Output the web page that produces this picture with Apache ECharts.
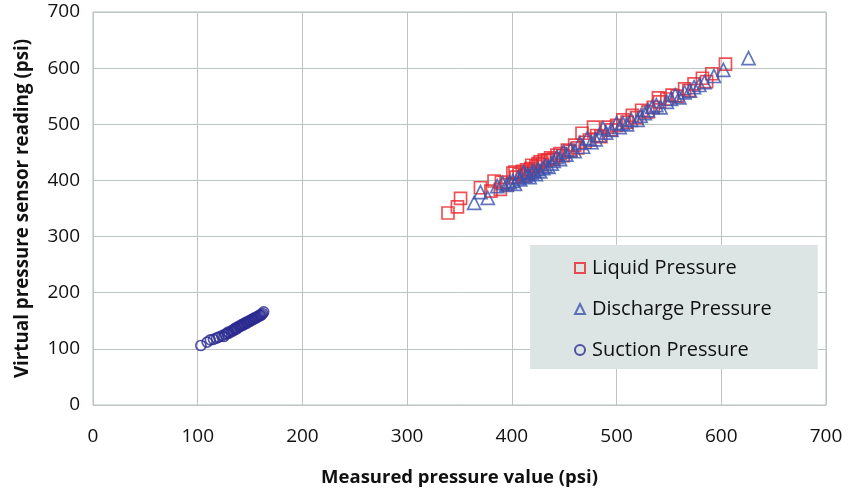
<!DOCTYPE html>
<html>
<head>
<meta charset="utf-8">
<script src="https://cdn.jsdelivr.net/npm/echarts@6/dist/echarts.min.js"></script>
<style>html,body{margin:0;padding:0;background:#fff}#c{width:852px;height:494px}</style>
</head>
<body>
<div id="c"></div>
<script>
var xTicks = [0, 100, 200, 300, 400, 500, 600, 700];
var yTicks = [0, 100, 200, 300, 400, 500, 600, 700];
var seriesNames = ['Liquid Pressure', 'Discharge Pressure', 'Suction Pressure'];

var liquidPressure = [
[339,342],[348,353],[351,368],[370,387],[380,381],[383,399],[389,384],[390,397],[396,393],[401,413],
[403,415],[404,406],[407,411],[410,416],[412,408],[414,419],[416,413],[418,421],[419,427],[421,417],
[423,425],[425,430],[427,433],[429,428],[431,436],[434,436],[437,440],[440,438],[443,445],[446,448],
[449,444],[453,454],[456,452],[460,463],[463,458],[467,484],[470,468],[474,472],[478,495],[481,480],
[485,478],[491,495],[495,490],[500,498],[506,508],[510,504],[515,516],[519,512],[524,525],[530,522],
[535,530],[540,547],[541,540],[548,545],[553,552],[558,550],[565,563],[569,560],[574,572],[582,582],
[586,576],[591,590],[604,607]
];

var dischargePressure = [
[364,360],[370,379],[377,369],[386,390],[391,395],[395,392],[398,397],[401,399],[403,394],[406,405],
[408,402],[411,415],[413,408],[415,411],[417,406],[419,414],[421,417],[423,411],[425,420],[427,416],
[430,422],[432,426],[435,424],[438,430],[440,435],[443,442],[446,438],[449,451],[452,446],[456,455],
[460,452],[465,467],[468,460],[472,475],[476,468],[480,473],[484,480],[487,493],[490,485],[495,490],
[500,502],[503,495],[506,502],[510,500],[514,508],[520,508],[523,515],[527,520],[530,525],[534,531],
[538,534],[542,530],[548,540],[552,545],[556,552],[560,548],[565,557],[570,560],[574,566],[579,570],
[584,575],[593,586],[602,597],[626,618]
];

var suctionPressure = [
[103,106],[109,112],[112,116],[115,117],[118,119],[120,121],[123,123],[125,122],[126,126],[128,127],
[129,130],[130,128],[132,131],[133,133],[134,132],[135,135],[136,137],[137,135],[138,138],[139,140],
[140,139],[141,141],[142,143],[143,142],[144,145],[145,144],[146,147],[147,146],[148,148],[149,150],
[150,149],[151,151],[152,153],[153,152],[154,154],[155,156],[156,155],[157,157],[158,158],[159,160],
[160,159],[161,161],[162,163],[163,166]
];

var FONT = '"Open Sans", "Noto Sans", sans-serif';
var chart = echarts.init(document.getElementById('c'), null, {renderer: 'canvas'});
chart.setOption({
  animation: false,
  backgroundColor: '#ffffff',
  grid: {left: 93, right: 26, top: 12, bottom: 89, show: true, borderColor: '#b4bcbc', borderWidth: 1, containLabel: false},
  xAxis: {
    type: 'value', min: xTicks[0], max: xTicks[xTicks.length - 1], interval: 100,
    name: 'Measured pressure value (psi)', nameLocation: 'middle', nameGap: 63,
    nameTextStyle: {fontFamily: FONT, fontSize: 18.5, fontWeight: 'bold', color: '#111'},
    axisLine: {show: false}, axisTick: {show: false},
    axisLabel: {fontFamily: FONT, fontSize: 19, color: '#111', margin: 22},
    splitLine: {show: true, lineStyle: {color: '#bcc4c4', width: 1}}
  },
  yAxis: {
    type: 'value', min: yTicks[0], max: yTicks[yTicks.length - 1], interval: 100,
    name: 'Virtual pressure sensor reading (psi)', nameLocation: 'middle', nameGap: 61,
    nameTextStyle: {fontFamily: FONT, fontSize: 18.8, fontWeight: 'bold', color: '#111'},
    axisLine: {show: false}, axisTick: {show: false},
    axisLabel: {fontFamily: FONT, fontSize: 19, color: '#111', margin: 13},
    splitLine: {show: true, lineStyle: {color: '#bcc4c4', width: 1}}
  },
  legend: {
    orient: 'vertical', left: 530, top: 245,
    backgroundColor: '#dce5e4',
    padding: [13, 46, 9, 44],
    itemGap: 21, itemWidth: 10, itemHeight: 10,
    textStyle: {fontFamily: FONT, fontSize: 20, color: '#111', padding: [0, 0, 0, 2]},
    data: seriesNames
  },
  series: [
    {
      name: seriesNames[0], type: 'scatter', data: liquidPressure,
      symbol: 'rect', symbolSize: 12,
      itemStyle: {color: 'rgba(0,0,0,0)', borderColor: '#e8262b', borderWidth: 1.7}
    },
    {
      name: seriesNames[1], type: 'scatter', data: dischargePressure,
      symbol: 'triangle', symbolSize: 13,
      itemStyle: {color: 'rgba(0,0,0,0)', borderColor: '#3b53ad', borderWidth: 1.7}
    },
    {
      name: seriesNames[2], type: 'scatter', data: suctionPressure,
      symbol: 'circle', symbolSize: 10,
      itemStyle: {color: 'rgba(0,0,0,0)', borderColor: '#2a2a90', borderWidth: 1.7}
    }
  ]
});
</script>
</body>
</html>
